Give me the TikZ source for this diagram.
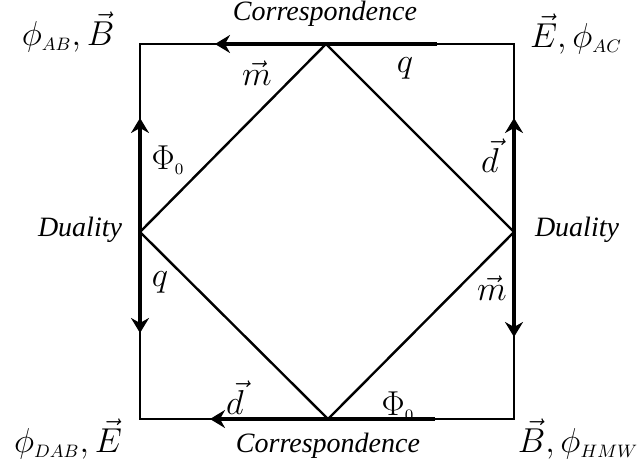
\documentclass[tikz,border=0pt]{standalone}
\usepackage{fontspec}
\setmainfont{Liberation Serif}[ItalicFont=Liberation Serif Italic]
\usetikzlibrary{arrows.meta}

\begin{document}
\begin{tikzpicture}[x=0.5pt,y=-0.5pt,
 edge/.style={line width=1.2pt,line join=miter},
 arr/.style={line width=1.9pt,-{Stealth[length=7.5pt,width=9pt,inset=2.5pt]}},
 lbl/.style={font=\fontsize{14}{16}\selectfont\itshape},
 sym/.style={font=\fontsize{19}{22}\selectfont},
 qty/.style={font=\fontsize{17}{20}\selectfont}]
\useasboundingbox (0,0) rectangle (640,471);
% square and diamond
\coordinate (tl) at (140,44);
\coordinate (tr) at (514,44);
\coordinate (br) at (514,419);
\coordinate (bl) at (140,419);
\coordinate (top) at (326,44);
\coordinate (rgt) at (514,232);
\coordinate (bot) at (328,419);
\coordinate (lft) at (140,232);
\draw[edge] (tl)--(tr)--(br)--(bl)--cycle;
\draw[edge] (top)--(rgt)--(bot)--(lft)--cycle;
% arrow ends
\coordinate (ts) at (437,44);
\coordinate (te) at (215,44);
\coordinate (bs) at (435,419);
\coordinate (be) at (210,419);
\coordinate (lu) at (140,118);
\coordinate (ld) at (140,333);
\coordinate (ru) at (514,118);
\coordinate (rd) at (514,337);
\foreach \x/\y in {ts/te,bs/be,lft/lu,lft/ld,rgt/ru,rgt/rd}{\draw[arr](\x)--(\y);}
% corners
\node[sym](nw) at (68,32){$\phi_{\scriptscriptstyle AB},\vec{B}$};
\node[sym](ne) at (576,34){$\vec{E},\phi_{\scriptscriptstyle AC}$};
\node[sym](sw) at (68,439){$\phi_{\scriptscriptstyle DAB},\vec{E}$};
\node[sym](se) at (578,439){$\vec{B},\phi_{\scriptscriptstyle HMW}$};
% side texts
\node[lbl](ctop) at (325,14){Correspondence};
\node[lbl](cbot) at (328,446){Correspondence};
\node[lbl](dl) at (80,230){Duality};
\node[lbl](dr) at (577,230){Duality};
% diamond labels
\node[qty](m1) at (257,73){$\vec{m}$};
\node[qty](q1) at (405,68){$q$};
\node[qty](p1) at (168,160){$\Phi_{\scriptscriptstyle 0}$};
\node[qty](q2) at (160,282){$q$};
\node[qty](d1) at (490,156){$\vec{d}$};
\node[qty](m2) at (492,288){$\vec{m}$};
\node[qty](d2) at (235,398){$\vec{d}$};
\node[qty](p2) at (398,406){$\Phi_{\scriptscriptstyle 0}$};
\end{tikzpicture}
\end{document}
